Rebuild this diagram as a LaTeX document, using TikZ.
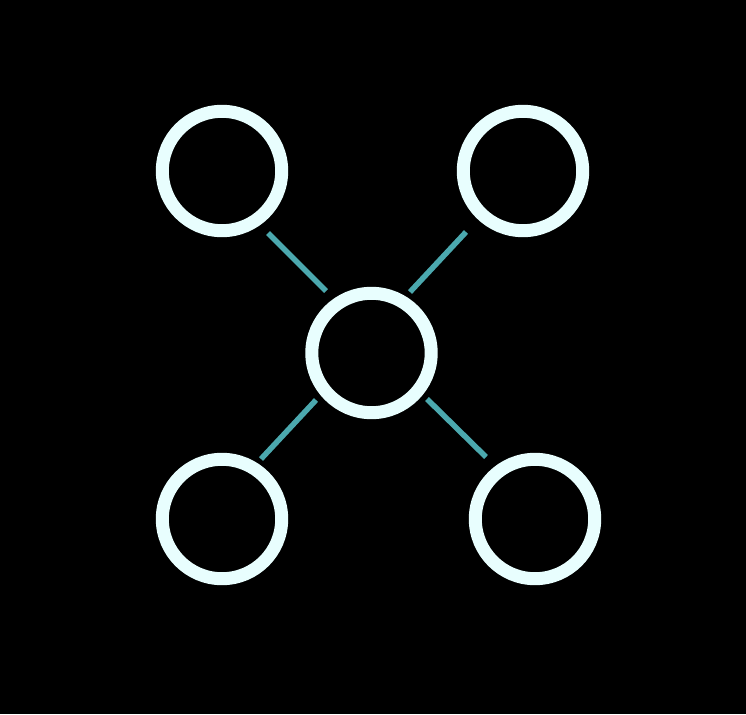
\documentclass[tikz,border=0pt]{standalone}
\definecolor{ringc}{HTML}{E8FEFE}
\definecolor{linkc}{HTML}{4BA8AE}
\begin{document}
\begin{tikzpicture}[x=1pt,y=-1pt,
  ring/.style={circle,draw=ringc,line width=13pt,minimum size=119.4pt,inner sep=0pt},
  link/.style={draw=linkc,line width=5.5pt}]
\fill[black] (0,0) rectangle (746,714);
\useasboundingbox (0,0) rectangle (746,714);
\node[ring] (tl) at (222,171) {};
\node[ring] (tr) at (523,171) {};
\node[ring] (c) at (371.5,353) {};
\node[ring] (bl) at (222,519) {};
\node[ring] (br) at (535,519) {};
\coordinate (tl1) at (268,233); \coordinate (tl2) at (326,291);
\coordinate (tr1) at (466,232); \coordinate (tr2) at (410,292);
\coordinate (bl1) at (316,400); \coordinate (bl2) at (261,459);
\coordinate (br1) at (427,399); \coordinate (br2) at (486,457);
\draw[link] (tl1) -- (tl2);
\draw[link] (tr1) -- (tr2);
\draw[link] (bl1) -- (bl2);
\draw[link] (br1) -- (br2);
\end{tikzpicture}
\end{document}
